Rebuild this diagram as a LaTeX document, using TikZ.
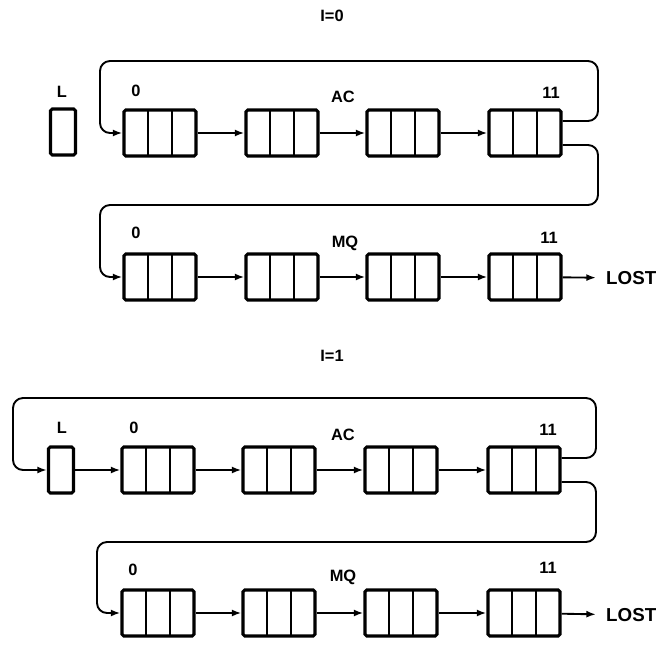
\documentclass[tikz,border=0pt]{standalone}
\usepackage{fontspec}
\setmainfont{Liberation Sans}
\usetikzlibrary{arrows.meta}

\begin{document}
    \begin{tikzpicture}[
            x=0.03cm, y=-0.03cm,
            reg/.style={draw, line width=2.6pt, rounded corners=1.5pt,
                minimum width=2.16cm, minimum height=1.38cm, inner sep=0pt,
                path picture={
                    \draw[line width=1.7pt] ([xshift=-0.36cm]path picture bounding box.north) -- ([xshift=-0.36cm]path picture bounding box.south);
                    \draw[line width=1.7pt] ([xshift=0.36cm]path picture bounding box.north) -- ([xshift=0.36cm]path picture bounding box.south);
                }},
            lbox/.style={draw, line width=2.6pt, rounded corners=1.5pt,
                minimum width=0.75cm, minimum height=1.38cm, inner sep=0pt},
            lbl/.style={font=\bfseries\fontsize{14}{14}\selectfont, inner sep=0pt},
            lost/.style={font=\bfseries\fontsize{16}{16}\selectfont, anchor=west, inner sep=0pt, inner xsep=0.3cm},
            link/.style={line width=1.6pt, -{Latex[length=2.9mm,width=2.1mm]}},
            wrap/.style={link, rounded corners=0.3cm}
        ]
        \useasboundingbox (0,0) rectangle (662,645);

        \node[lbl] (titleA) at (332,16) {I=0};
        \node[lbox] (lA) at (63,132) {};
        \node[lbl] (lAtxt) at (62,92) {L};
        \node[reg] (acA1) at (160,133) {};
        \node[reg] (acA2) at (282,133) {};
        \node[reg] (acA3) at (403,133) {};
        \node[reg] (acA4) at (525,133) {};
        \node[lbl] (acAlo) at (136,91) {0};
        \node[lbl] (acAname) at (343,97) {AC};
        \node[lbl] (acAhi) at (551,93) {11};
        \node[reg] (mqA1) at (160,277) {};
        \node[reg] (mqA2) at (282,277) {};
        \node[reg] (mqA3) at (403,277) {};
        \node[reg] (mqA4) at (525,277) {};
        \node[lbl] (mqAlo) at (136,233) {0};
        \node[lbl] (mqAname) at (345,243) {MQ};
        \node[lbl] (mqAhi) at (549,238) {11};
        \node[lost] (lostA) at (596,278) {LOST};

        \draw[link] (acA1) -- (acA2);
        \draw[link] (acA2) -- (acA3);
        \draw[link] (acA3) -- (acA4);
        \draw[wrap] ([yshift=0.36cm]acA4.east) -| (598,61) -| (100,133) -- (acA1);
        \draw[wrap] ([yshift=-0.36cm]acA4.east) -| (598,205) -| (100,277) -- (mqA1);
        \draw[link] (mqA1) -- (mqA2);
        \draw[link] (mqA2) -- (mqA3);
        \draw[link] (mqA3) -- (mqA4);
        \draw[link] (mqA4) -- (lostA);

        \node[lbl] (titleB) at (332,356) {I=1};
        \node[lbox] (lB) at (61,470) {};
        \node[lbl] (lBtxt) at (62,428) {L};
        \node[reg] (acB1) at (158,470) {};
        \node[reg] (acB2) at (279,470) {};
        \node[reg] (acB3) at (401,470) {};
        \node[reg] (acB4) at (524,470) {};
        \node[lbl] (acBlo) at (134,428) {0};
        \node[lbl] (acBname) at (343,435) {AC};
        \node[lbl] (acBhi) at (548,430) {11};
        \node[reg] (mqB1) at (158,613) {};
        \node[reg] (mqB2) at (279,613) {};
        \node[reg] (mqB3) at (401,613) {};
        \node[reg] (mqB4) at (524,613) {};
        \node[lbl] (mqBlo) at (133,570) {0};
        \node[lbl] (mqBname) at (343,577) {MQ};
        \node[lbl] (mqBhi) at (548,568) {11};
        \node[lost] (lostB) at (596,615) {LOST};

        \draw[link] (lB) -- (acB1);
        \draw[link] (acB1) -- (acB2);
        \draw[link] (acB2) -- (acB3);
        \draw[link] (acB3) -- (acB4);
        \draw[wrap] ([yshift=0.36cm]acB4.east) -| (596,398) -| (13,470) -- (lB);
        \draw[wrap] ([yshift=-0.36cm]acB4.east) -| (596,542) -| (97,613) -- (mqB1);
        \draw[link] (mqB1) -- (mqB2);
        \draw[link] (mqB2) -- (mqB3);
        \draw[link] (mqB3) -- (mqB4);
        \draw[link] (mqB4) -- (lostB);
    \end{tikzpicture}
\end{document}
